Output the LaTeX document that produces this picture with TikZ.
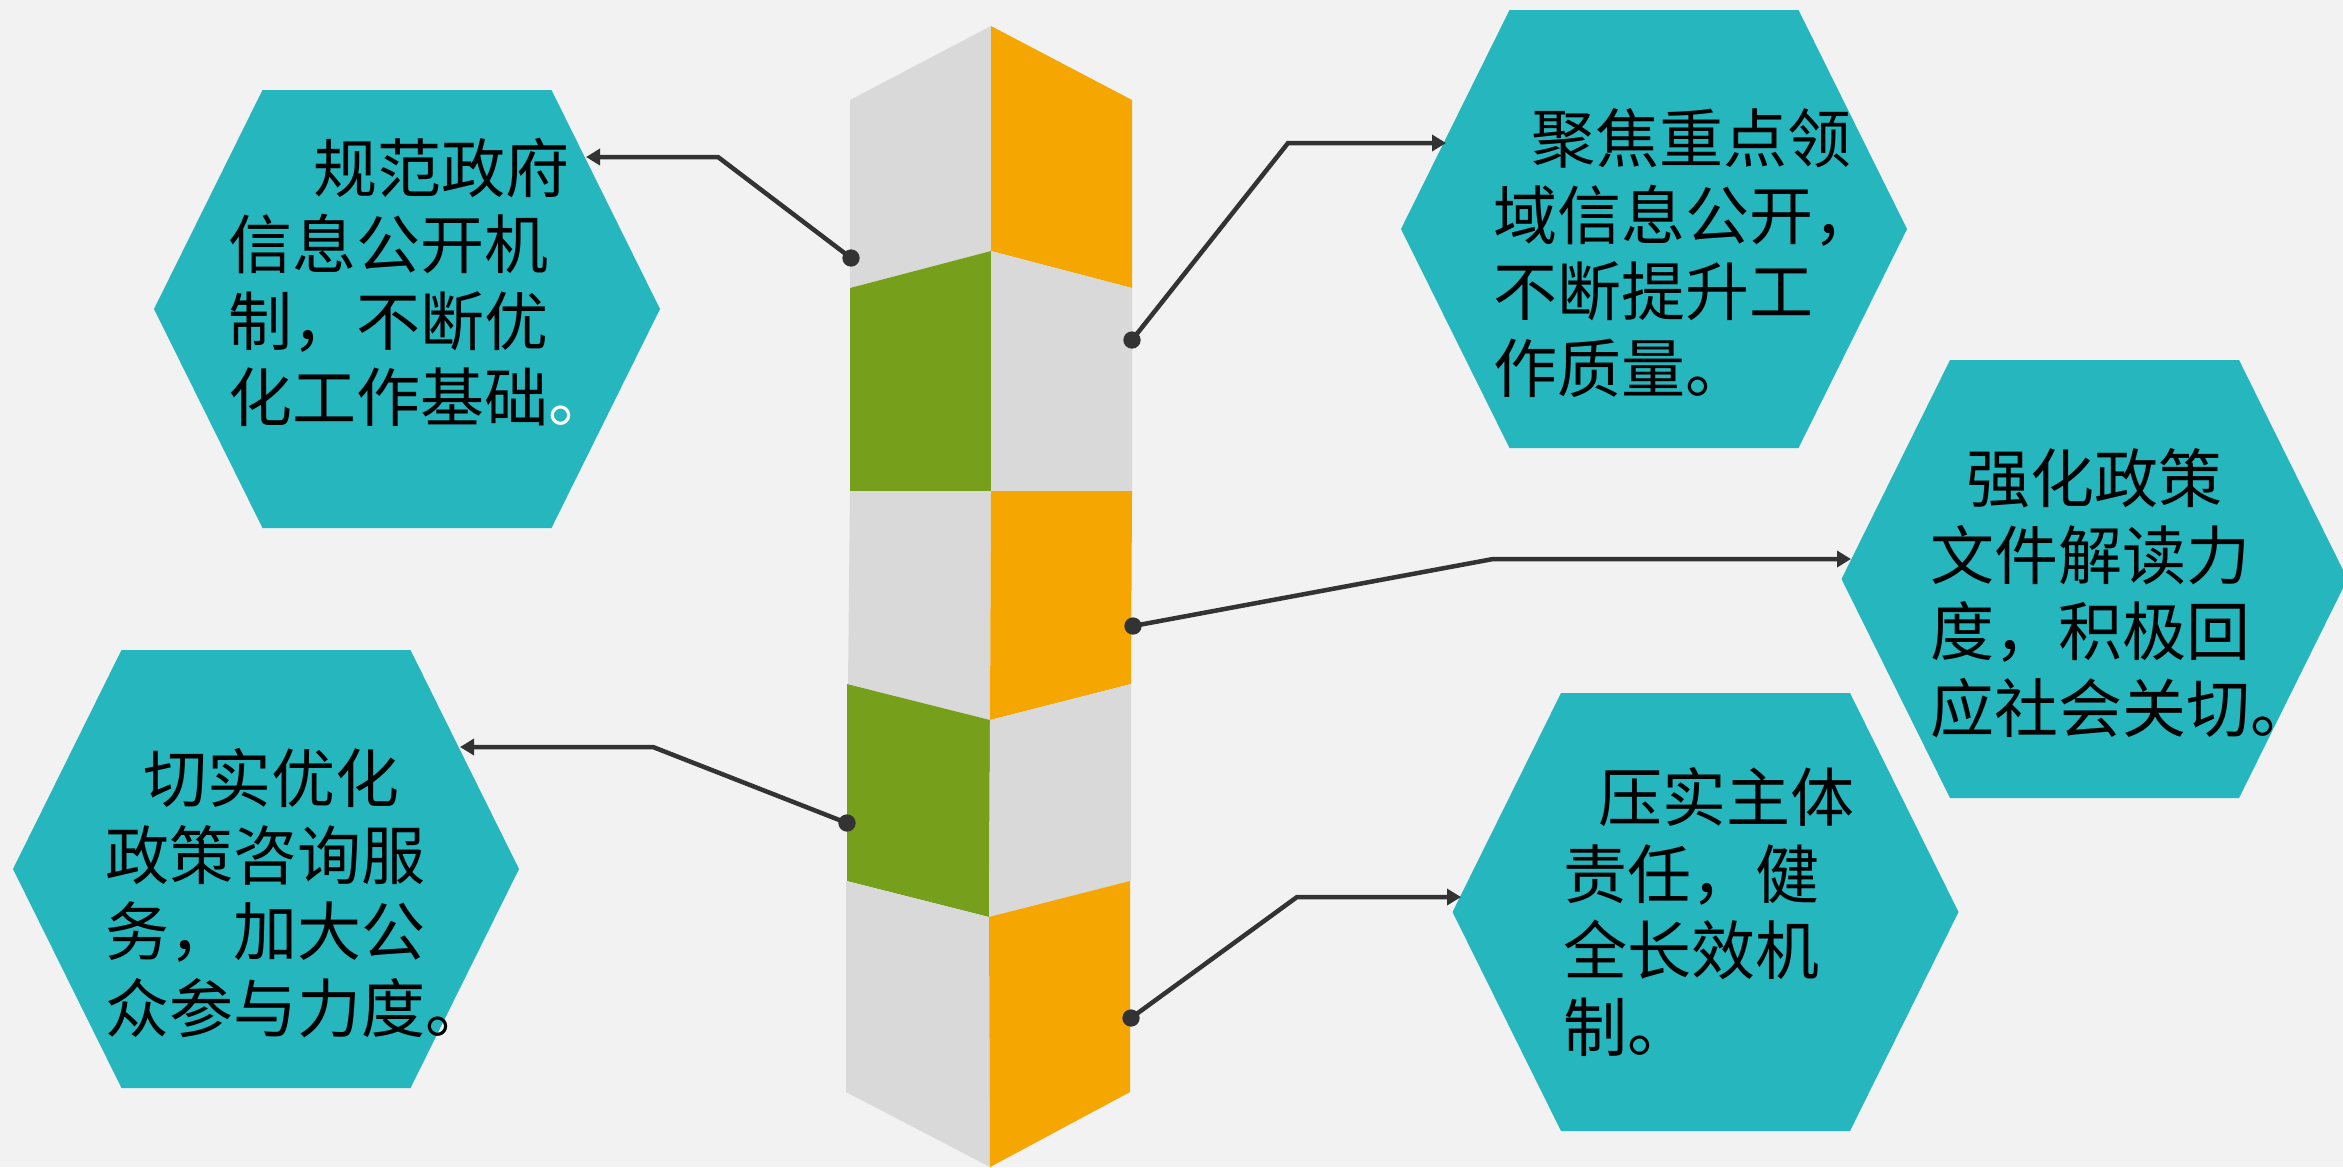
\documentclass[tikz,border=0pt]{standalone}
\usepackage{fontspec}
\newfontfamily\cjk{Noto Sans CJK SC}
\usetikzlibrary{arrows.meta}
\definecolor{bgcol}{HTML}{F2F2F2}
\definecolor{hexcol}{RGB}{37,182,190}
\definecolor{greycol}{HTML}{D9D9D9}
\definecolor{orangecol}{HTML}{F5A600}
\definecolor{greencol}{HTML}{76A01C}
\definecolor{linecol}{HTML}{333333}
\tikzset{
  hexa/.pic={\fill[hexcol] (-253,0) -- (-144.5,-219) -- (144.5,-219) -- (253,0) -- (144.5,219) -- (-144.5,219) -- cycle;},
  hextext/.style={anchor=north west, inner sep=0pt, align=left, text=black,
    font=\cjk\fontsize{19.2pt}{22.95pt}\selectfont},
  conn/.style={draw=linecol, line width=1.35pt, line join=miter, -{Triangle[length=4.2pt,width=4.8pt]}},
  dotstyle/.style={fill=linecol}
}
\begin{document}
\begin{tikzpicture}[x=0.3pt,y=-0.3pt]
\fill[bgcol] (0,0) rectangle (2343,1167);
\useasboundingbox (0,0) rectangle (2343,1167);

% column
\fill[greycol]   (850,100) -- (991,26) -- (991,251) -- (850,288) -- cycle;
\fill[orangecol] (991,26) -- (1132,100) -- (1132,288) -- (991,251) -- cycle;
\fill[greencol]  (850,288) -- (991,251) -- (991,491) -- (850,491) -- cycle;
\fill[greycol]   (991,251) -- (1132,288) -- (1132,491) -- (991,491) -- cycle;
\fill[greycol]   (850,491) -- (991,491) -- (990,720) -- (848,684) -- cycle;
\fill[orangecol] (991,491) -- (1132,491) -- (1131,684) -- (990,720) -- cycle;
\fill[greencol]  (847,684) -- (990,720) -- (989,917) -- (847,881) -- cycle;
\fill[greycol]   (990,720) -- (1131,684) -- (1131,881) -- (989,917) -- cycle;
\fill[greycol]   (846,881) -- (989,917) -- (990,1167) -- (846,1092) -- cycle;
\fill[orangecol] (989,917) -- (1130,881) -- (1130,1092) -- (990,1167) -- cycle;

% hexagons
\pic at (407,309) {hexa};
\pic at (1654,229) {hexa};
\pic at (2094.5,579) {hexa};
\pic at (266,869) {hexa};
\pic at (1705.5,912) {hexa};

% texts
\node[hextext] (t1) at (228,137) {\hspace*{25.5pt}规范政府\\信息公开机\\制，不断优\\化工作基础{\color{white}。}};
\node[hextext] (t2) at (1493,108) {\hspace*{11.4pt}聚焦重点领\\域信息公开，\\不断提升工\\作质量。};
\node[hextext] (t3) at (1930,448) {\hspace*{10.8pt}强化政策\\文件解读力\\度，积极回\\应社会关切。};
\node[hextext] (t4) at (105,748) {\hspace*{11.4pt}切实优化\\政策咨询服\\务，加大公\\众参与力度。};
\node[hextext] (t5) at (1563,767) {\hspace*{10.5pt}压实主体\\责任，健\\全长效机\\制。};

% connector points
\coordinate (d1) at (851,258);  \coordinate (b1) at (718,157);  \coordinate (a1) at (586,157);
\coordinate (d2) at (1132,340); \coordinate (b2) at (1288,143); \coordinate (a2) at (1446,143);
\coordinate (d3) at (1133,626); \coordinate (b3) at (1493,559); \coordinate (a3) at (1851,559);
\coordinate (d4) at (847,823);  \coordinate (b4) at (653,747);  \coordinate (a4) at (460,747);
\coordinate (d5) at (1131,1018);\coordinate (b5) at (1297,897); \coordinate (a5) at (1461,897);

\foreach \i in {1,...,5}{
  \draw[conn] (d\i) -- (b\i) -- (a\i);
  \fill[dotstyle] (d\i) circle[radius=2.6pt];
}
\end{tikzpicture}
\end{document}
